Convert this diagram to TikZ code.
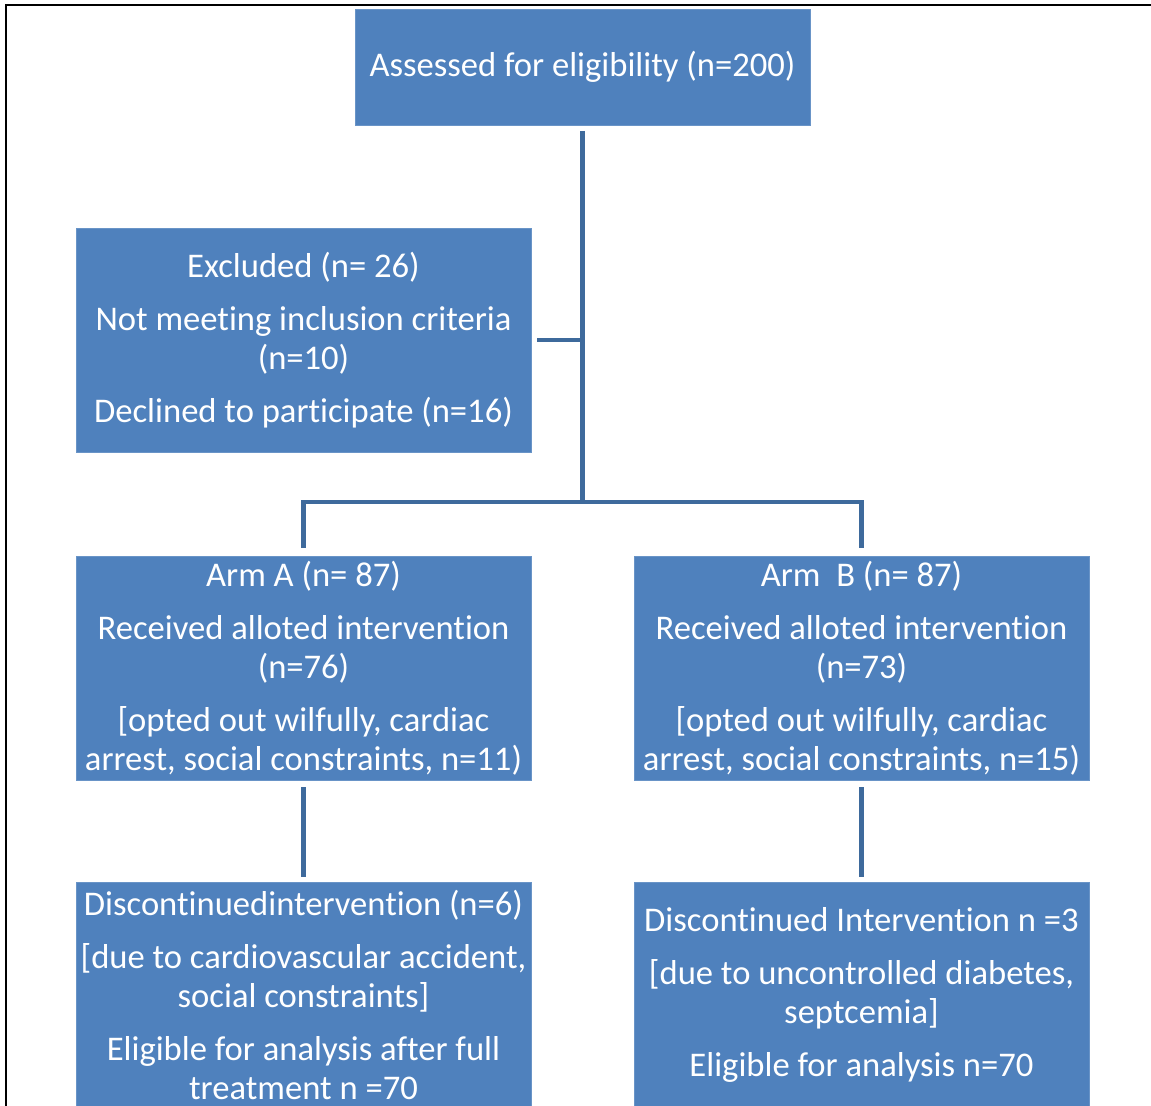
\documentclass[tikz,border=0pt]{standalone}
\usepackage{fontspec}
\setmainfont{Carlito}[Ligatures=NoCommon]
\definecolor{boxblue}{HTML}{4F81BD}
\definecolor{linkblue}{HTML}{3E6A9C}
\tikzstyle{Stage}=[minimum width=227.5pt, minimum height=112pt, inner sep=0pt, outer sep=0pt, fill=boxblue, draw=boxblue!85!white, line width=0.4pt, shape=rectangle, text=white, align=center, font=\fontsize{17.3}{19.5}\selectfont]
\tikzstyle{Top}=[Stage, minimum height=58pt]
\tikzstyle{link}=[line width=2.4pt, draw=linkblue]
\tikzstyle{frame}=[line width=1.4pt, draw=black]
\pgfdeclarelayer{nodelayer}
\pgfdeclarelayer{edgelayer}
\pgfsetlayers{nodelayer, edgelayer}

\begin{document}
\begin{tikzpicture}[x=0.5pt, y=-0.5pt]
	\useasboundingbox (0,0) rectangle (1151,1106);
	\begin{pgfonlayer}{nodelayer}
		\node [style=Top] (assessed) at (582.5, 67) {Assessed for eligibility (n=200)};
		\node [style=Stage] (excluded) at (303.5, 340) {Excluded (n= 26)\\[7pt]Not meeting inclusion criteria\\(n=10)\\[7pt]Declined to participate (n=16)};
		\node [style=Stage] (armA) at (303.5, 668) {Arm A (n= 87)\\[7pt]Received alloted intervention\\(n=76)\\[7pt][opted out wilfully, cardiac\\arrest, social constraints, n=11)};
		\node [style=Stage] (armB) at (861.5, 668) {Arm\ \ B (n= 87)\\[7pt]Received alloted intervention\\(n=73)\\[7pt][opted out wilfully, cardiac\\arrest, social constraints, n=15)};
		\node [style=Stage] (discA) at (303.5, 994.5) {Discontinuedintervention (n=6)\\[7pt][due to cardiovascular accident,\\social constraints]\\[7pt]Eligible for analysis after full\\treatment n =70};
		\node [style=Stage] (discB) at (861.5, 994.5) {Discontinued Intervention n =3\\[7pt][due to uncontrolled diabetes,\\septcemia]\\[7pt]Eligible for analysis n=70};
		\coordinate (split) at (582.5, 502);
		\coordinate (side) at (582.5, 340);
	\end{pgfonlayer}
	\begin{pgfonlayer}{edgelayer}
		\draw [style=frame] (1151, 5) -- (6, 5) -- (6, 1106);
		\draw [style=link, shorten <=3pt] (assessed.south) to (split);
		\draw [style=link, shorten <=3pt] (excluded.east) to (side);
		\draw [style=link, shorten <=4pt, shorten >=4pt] (armA.north) |- (split) -| (armB.north);
		\draw [style=link, shorten <=3.5pt, shorten >=3pt] (armA.south) to (discA.north);
		\draw [style=link, shorten <=3.5pt, shorten >=3pt] (armB.south) to (discB.north);
	\end{pgfonlayer}
\end{tikzpicture}
\end{document}
